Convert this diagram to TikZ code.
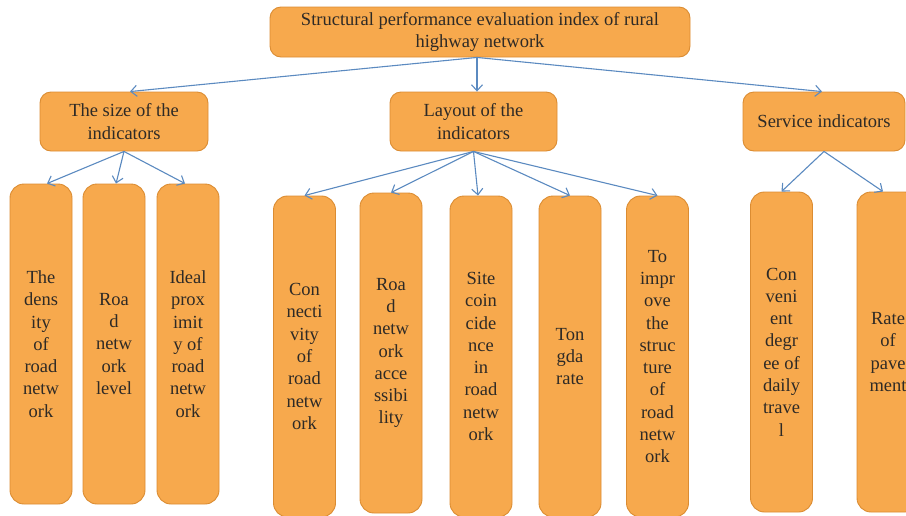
\documentclass[tikz,border=0pt]{standalone}
\usepackage{fontspec}
\setmainfont{Liberation Serif}
\usetikzlibrary{arrows.meta}
\definecolor{boxfill}{HTML}{F7A94D}
\definecolor{boxline}{HTML}{DB8C32}
\definecolor{arrowc}{HTML}{5B8AC0}
\definecolor{txt}{HTML}{2E2A26}
\tikzset{
  box/.style={draw=boxline, fill=boxfill, line width=0.9pt, rounded corners=11pt,
    align=center, inner sep=2pt, text=txt,
    font=\fontsize{18.5}{22.3}\selectfont},
  tall/.style={box, rounded corners=14pt, minimum width=62pt},
  conn/.style={draw=arrowc, line width=1.1pt, -{Straight Barb[length=6pt,width=11pt]}}
}
\begin{document}
\begin{tikzpicture}[x=1pt,y=-1pt]
\useasboundingbox (0,0) rectangle (906,515);
\clip (0,0) rectangle (906,515);
% top
\node[box, minimum width=420pt, minimum height=50pt] (top) at (480,32)
  {Structural performance evaluation index of rural\\highway network};
% level 2
\node[box, minimum width=168pt, minimum height=59pt] (size) at (124,121.5) {The size of the\\indicators};
\node[box, minimum width=167pt, minimum height=59pt] (lay) at (473.5,121.5) {Layout of the\\indicators};
\node[box, minimum width=162pt, minimum height=59pt] (serv) at (824,121.5) {Service indicators};
% level 3 left
\node[tall, minimum height=320pt] (a1) at (41,344) {The\\dens\\ity\\of\\road\\netw\\ork};
\node[tall, minimum height=320pt] (a2) at (114,344) {Roa\\d\\netw\\ork\\level};
\node[tall, minimum height=320pt] (a3) at (188,344) {Ideal\\prox\\imit\\y of\\road\\netw\\ork};
% level 3 middle
\node[tall, minimum height=321pt] (b1) at (304.5,356.5) {Con\\necti\\vity\\of\\road\\netw\\ork};
\node[tall, minimum height=320pt] (b2) at (391,353) {Roa\\d\\netw\\ork\\acce\\ssibi\\lity};
\node[tall, minimum height=321pt] (b3) at (481,356.5) {Site\\coin\\cide\\nce\\in\\road\\netw\\ork};
\node[tall, minimum height=321pt] (b4) at (570,356.5) {Ton\\gda\\rate};
\node[tall, minimum height=321pt] (b5) at (657.5,356.5) {To\\impr\\ove\\the\\struc\\ture\\of\\road\\netw\\ork};
% level 3 right
\node[tall, minimum height=320pt] (c1) at (781.5,352) {Con\\veni\\ent\\degr\\ee of\\daily\\trave\\l};
\node[tall, minimum height=320pt] (c2) at (888,352) {Rate\\of\\pave\\ment};
% connectors
\coordinate (tb) at ([xshift=-3pt]top.south);
\draw[conn] (tb) -- ([xshift=6pt]size.north);
\draw[conn] (tb) -- ([xshift=3.5pt]lay.north);
\draw[conn] (tb) -- ([xshift=-2pt]serv.north);
\draw[conn] (size.south) -- ([xshift=6pt]a1.north);
\draw[conn] (size.south) -- ([xshift=2pt]a2.north);
\draw[conn] (size.south) -- ([xshift=-3pt]a3.north);
\draw[conn] (lay.south) -- (b1.north);
\draw[conn] (lay.south) -- (b2.north);
\draw[conn] (lay.south) -- ([xshift=-3pt]b3.north);
\draw[conn] (lay.south) -- (b4.north);
\draw[conn] (lay.south) -- (b5.north);
\draw[conn] (serv.south) -- (c1.north);
\draw[conn] (serv.south) -- ([xshift=-5pt]c2.north);
\end{tikzpicture}
\end{document}
